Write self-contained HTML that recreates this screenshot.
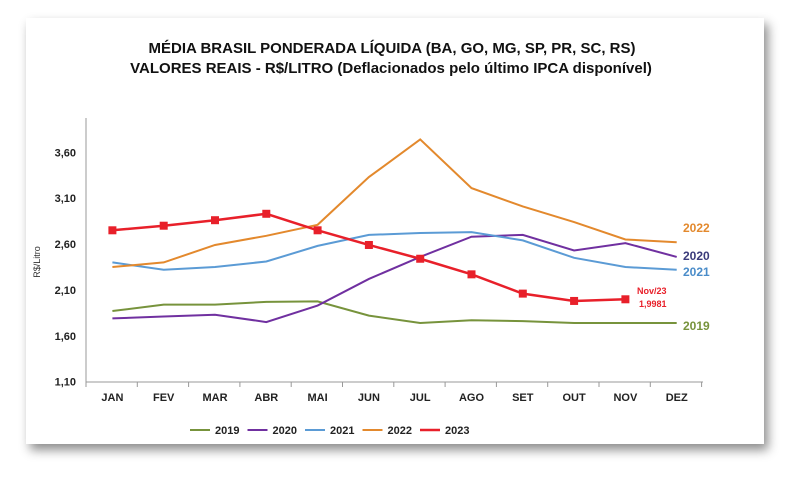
<!DOCTYPE html>
<html><head><meta charset="utf-8"><style>
body{margin:0;width:800px;height:480px;background:#fff;overflow:hidden;font-family:"Liberation Sans",sans-serif}
#card{position:absolute;left:26px;top:18px;width:738px;height:426px;background:#fff;box-shadow:4px 6px 10px rgba(0,0,0,0.45)}
svg{position:absolute;left:0;top:0}
text{font-family:"Liberation Sans",sans-serif;font-weight:bold}
</style></head><body>
<div id="card"></div>
<svg id="chart" width="800" height="480"></svg>
<script>
const months=["JAN","FEV","MAR","ABR","MAI","JUN","JUL","AGO","SET","OUT","NOV","DEZ"];
const yTicks=[1.10,1.60,2.10,2.60,3.10,3.60];
const s2019=[1.87,1.94,1.94,1.97,1.975,1.82,1.74,1.77,1.76,1.74,1.74,1.74];
const s2020=[1.79,1.81,1.83,1.75,1.93,2.22,2.46,2.68,2.70,2.53,2.61,2.46];
const s2021=[2.40,2.32,2.35,2.41,2.58,2.70,2.72,2.73,2.64,2.45,2.35,2.32];
const s2022=[2.35,2.40,2.59,2.69,2.81,3.33,3.74,3.21,3.01,2.84,2.65,2.62];
const s2023=[2.75,2.80,2.86,2.93,2.75,2.59,2.44,2.27,2.06,1.98,1.9981];
const seriesNames=["2019","2020","2021","2022","2023"];
const colors=["#77933c","#7030a0","#5b9bd5","#e3892d","#e8202a"];
const NS="http://www.w3.org/2000/svg";
const svg=document.getElementById('chart');
const X=i=>112.4+51.3*i;
const Y=v=>381.7-(v-1.10)*91.76;
function el(t,a,txt){const e=document.createElementNS(NS,t);for(const k in a)e.setAttribute(k,a[k]);if(txt!==undefined)e.textContent=txt;svg.appendChild(e);return e;}
let e;
e=el('text',{x:392,y:53,'text-anchor':'middle','font-size':15,fill:'#111'},'MÉDIA BRASIL PONDERADA LÍQUIDA (BA, GO, MG, SP, PR, SC, RS)');


e=el('text',{x:391,y:73,'text-anchor':'middle','font-size':15,fill:'#111'},'VALORES REAIS - R$/LITRO (Deflacionados pelo último IPCA disponível)');


e=el('line',{x1:86,y1:118,x2:86,y2:382,stroke:'#999','stroke-width':1});


e=el('line',{x1:86,y1:382,x2:703,y2:382,stroke:'#999','stroke-width':1});


for(let i=0;i<=12;i++){e=el('line',{x1:86+51.3*i,y1:382,x2:86+51.3*i,y2:387,stroke:'#999'});

}
yTicks.forEach(v=>{e=el('text',{x:76,y:Y(v)+4,'text-anchor':'end','font-size':11,fill:'#222'},v.toFixed(2).replace('.',','));

});
months.forEach((m,i)=>{e=el('text',{x:X(i),y:401,'text-anchor':'middle','font-size':11,fill:'#222'},m);

});
e=el('text',{x:40,y:262,'text-anchor':'middle','font-size':9,fill:'#333',transform:'rotate(-90 40 262)',style:'font-weight:normal'},'R$/Litro');


const all=[s2019,s2020,s2021,s2022,s2023];
all.forEach((s,k)=>{
 e=el('polyline',{points:s.map((v,i)=>X(i)+','+Y(v)).join(' '),fill:'none',stroke:colors[k],'stroke-width':k==4?2.5:2});
 
 
});
s2023.forEach((v,i)=>{e=el('rect',{x:X(i)-4,y:Y(v)-4,width:8,height:8,fill:colors[4]});

});
const endLabels=[["2022",683,232,"#e3892d"],["2020",683,260,"#3a3a7a"],["2021",683,276,"#4a8cc9"],["2019",683,330,"#77933c"]];
endLabels.forEach(l=>{e=el('text',{x:l[1],y:l[2],'font-size':12,fill:l[3]},l[0]);

});
e=el('text',{x:637,y:294,'font-size':9,fill:'#e8202a'},'Nov/23');


e=el('text',{x:639,y:307,'font-size':9,fill:'#e8202a'},'1,9981');


seriesNames.forEach((n,k)=>{const x0=190+57.5*k;
 e=el('line',{x1:x0,y1:430,x2:x0+20,y2:430,stroke:colors[k],'stroke-width':k==4?2.5:2});
 
 
 e=el('text',{x:x0+25,y:434,'font-size':11,fill:'#222'},n);
 
 
});
</script>
</body></html>
